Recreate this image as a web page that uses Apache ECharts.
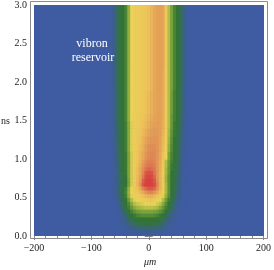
<!DOCTYPE html>
<html><head><meta charset="utf-8">
<script src="https://cdn.jsdelivr.net/npm/echarts@6/dist/echarts.min.js"></script>
<style>html,body{margin:0;padding:0;background:#fff}#c{width:274px;height:270px}</style>
</head><body><div id="c"></div>
<script>
// x cell edges (μm) and y cell edges (ns)
const xEdges = [-200,-67.5,-62.5,-57.5,-52.5,-47.5,-42.5,-37.5,-32.5,-27.5,-22.5,-17.5,-12.5,-7.5,-2.5,2.5,7.5,12.5,17.5,22.5,27.5,32.5,37.5,42.5,47.5,52.5,57.5,62.5,67.5,200];
const yEdges = [0,0.05,0.10,0.15,0.20,0.25,0.30,0.35,0.40,0.45,0.50,0.55,0.60,0.65,0.70,0.75,0.80,0.85,0.90,0.95,1.0,1.1,1.2,1.3,1.4,1.5,1.6,1.9,2.2,2.6,3.0];
// intensity (0..100), rows from bottom to top, columns from left to right
const intensity = [
[0, 0,0,0,0,0,0,0,0,0,0,0,0,0,0,0,0,0,0,0,0,0,0,0,0,0,0,0, 0],
[0, 0,0,0,0,1,2,4,5,7,8,9,10,10,10,10,9,8,7,5,3,2,1,0,0,0,0,0, 0],
[0, 0,0,0,1,3,5,8,10,12,14,15,16,16,16,16,15,14,12,10,8,5,3,1,0,0,0,0, 0],
[0, 0,0,0,2,4,7,11,15,19,22,24,25,26,26,26,25,23,20,16,11,7,4,2,0,0,0,0, 0],
[0, 0,0,0,3,6,11,17,23,26,28,29,30,30,30,30,29,28,25,21,15,10,6,3,1,0,0,0, 0],
[0, 0,0,1,4,9,16,23,28,31,33,34,35,35,35,35,34,33,31,27,22,15,9,4,1,0,0,0, 0],
[0, 0,0,2,6,13,22,29,33,36,38,39,40,40,40,40,39,38,36,33,28,22,14,7,3,0,0,0, 0],
[0, 0,0,3,9,18,27,32,37,41,43,44,45,46,46,46,45,44,41,37,32,27,19,11,5,1,0,0, 0],
[0, 0,1,5,13,22,29,34,41,45,47,48,49,50,51,51,50,48,46,41,35,29,22,14,7,2,0,0, 0],
[0, 0,2,7,15,24,30,38,45,49,51,52,54,56,57,57,55,53,50,45,38,32,25,17,9,3,1,0, 0],
[0, 0,3,9,17,26,32,42,49,52,54,57,62,66,68,68,65,60,54,49,42,35,27,20,12,5,1,0, 0],
[0, 1,4,11,19,27,33,43,50,55,58,64,72,80,84,84,80,72,62,52,44,36,28,22,14,6,2,0, 0],
[0, 1,4,11,19,27,32,42,50,56,62,72,85,92,95,95,92,82,68,54,44,36,28,23,15,7,2,0, 0],
[0, 1,4,10,18,26,30,39,48,56,66,80,96,100,100,100,97,85,70,55,44,36,29,24,16,8,3,0, 0],
[0, 1,4,10,18,26,30,39,48,55,64,76,93,99,100,99,95,82,68,54,43,36,29,25,17,8,3,0, 0],
[0, 1,4,11,19,26,30,40,48,55,64,74,88,97,99,98,92,80,68,54,43,36,30,25,18,9,3,0, 0],
[0, 1,4,11,19,27,31,40,48,55,63,73,84,95,97,96,89,80,69,55,44,37,30,26,19,9,3,0, 0],
[0, 1,4,11,20,27,31,40,48,55,63,72,82,90,93,91,88,80,70,56,44,37,31,27,20,10,4,0, 0],
[0, 1,5,12,20,27,31,40,48,54,62,70,79,86,88,88,86,80,71,57,45,38,31,27,21,11,4,0, 0],
[0, 1,5,12,21,28,31,40,48,54,60,68,77,83,86,86,84,79,72,58,45,38,32,28,22,12,5,1, 0],
[0, 1,5,13,21,28,31,40,48,54,59,66,73,80,83,84,83,80,73,62,50,40,33,28,23,13,5,1, 0],
[0, 1,6,14,22,28,32,41,49,54,58,64,70,77,81,82,82,80,74,64,52,42,34,29,24,15,6,1, 0],
[0, 2,7,15,23,29,32,41,49,54,57,62,68,74,78,80,80,79,75,66,54,43,35,30,25,16,7,2, 0],
[0, 2,8,16,24,29,32,41,49,54,57,60,65,70,74,77,78,78,76,68,55,44,36,31,26,18,9,3, 0],
[0, 2,8,16,24,29,32,41,49,54,56,58,62,66,70,74,76,77,76,70,56,45,37,31,27,19,10,3, 0],
[0, 3,9,17,25,30,33,42,50,54,56,57,60,63,67,71,74,76,76,71,56,45,37,32,28,20,11,3, 0],
[0, 3,9,17,25,30,33,42,50,53,55,56,58,61,64,69,73,75,76,72,56,45,38,32,28,21,12,4, 0],
[0, 3,10,18,26,30,33,42,50,53,55,56,57,59,62,67,72,75,76,73,56,45,39,33,29,22,13,4, 0],
[0, 3,10,18,26,30,33,42,50,53,55,56,57,59,62,67,72,75,76,74,56,45,39,33,29,22,13,4, 0],
[0, 3,10,18,26,30,33,42,50,53,55,56,57,59,62,67,72,75,76,74,56,45,39,33,29,22,13,4, 0]
];
const xRange = [-200, 200];
const yRange = [0, 3];
const xStep = 100;
const yStep = 0.5;
const xTitle = 'μm';
const yTitle = 'ns';
const noteLines = ['vibron', 'reservoir'];

const palette = ['#3F5CA2','#3B6088','#356F52','#337433','#7DA63A','#E8D257','#EEC45A','#E8AE58','#E09656','#DE7050','#D8403C'];

const cells = [];
for (let i = 0; i < intensity.length; i++) {
  for (let j = 0; j < intensity[i].length; j++) {
    cells.push([xEdges[j], yEdges[i], xEdges[j+1], yEdges[i+1], intensity[i][j]]);
  }
}

const font = 'Liberation Serif';
const frameCol = '#8a8a8a';
const tickCommon = {
  axisLine: {show: false},
  axisTick: {show: true, inside: true, length: 4, lineStyle: {color: frameCol, width: 1}},
  minorTick: {show: true, splitNumber: 5, length: 2.5, lineStyle: {color: frameCol, width: 1}},
  splitLine: {show: false}
};
const labelStyle = {fontFamily: font, fontSize: 10, color: '#222'};
const fmtX = v => v < 0 ? '\u2212' + Math.abs(v) : String(v);

const chart = echarts.init(document.getElementById('c'), null, {renderer: 'canvas'});
chart.setOption({
  animation: false,
  grid: {left: 34, top: 5, width: 231, height: 231, show: true, backgroundColor: palette[0], borderWidth: 0},
  xAxis: [
    Object.assign({type: 'value', position: 'bottom', min: xRange[0], max: xRange[1], interval: xStep, offset: 2,
      axisLabel: Object.assign({margin: 5, formatter: fmtX}, labelStyle)}, tickCommon),
    Object.assign({type: 'value', position: 'top', min: xRange[0], max: xRange[1], interval: xStep, offset: 4,
      axisLabel: {show: false}}, tickCommon)
  ],
  yAxis: [
    Object.assign({type: 'value', position: 'left', min: yRange[0], max: yRange[1], interval: yStep, offset: 4,
      axisLabel: Object.assign({margin: 3, formatter: v => v.toFixed(1)}, labelStyle)}, tickCommon),
    Object.assign({type: 'value', position: 'right', min: yRange[0], max: yRange[1], interval: yStep, offset: 2,
      axisLabel: {show: false}}, tickCommon)
  ],
  visualMap: {type: 'continuous', show: false, min: 0, max: 100, dimension: 4, seriesIndex: 0, inRange: {color: palette}},
  series: [{
    type: 'custom',
    clip: true,
    silent: true,
    dimensions: ['x0','y0','x1','y1','v'],
    encode: {x: [0, 2], y: [1, 3]},
    data: cells,
    renderItem: function (params, api) {
      const p0 = api.coord([api.value(0), api.value(3)]);
      const p1 = api.coord([api.value(2), api.value(1)]);
      return {type: 'rect', shape: {x: p0[0], y: p0[1], width: p1[0] - p0[0] + 0.6, height: p1[1] - p0[1] + 0.6},
        style: {fill: api.visual('color')}};
    }
  }],
  graphic: [
    {type: 'rect', shape: {x: 30.5, y: 1.5, width: 237, height: 237}, style: {fill: null, stroke: frameCol, lineWidth: 1}, z: 10},
    {type: 'text', x: 150, y: 262, style: {text: xTitle, font: 'italic 10px "Liberation Serif"', fill: '#222', textAlign: 'center', textVerticalAlign: 'middle'}},
    {type: 'text', x: 10, y: 121, style: {text: yTitle, font: '10px "Liberation Serif"', fill: '#222', textAlign: 'right', textVerticalAlign: 'middle'}},
    {type: 'text', x: 92, y: 44, style: {text: noteLines[0], font: '12px "Liberation Serif"', fill: '#ffffff', textAlign: 'center', textVerticalAlign: 'middle'}, z: 20},
    {type: 'text', x: 93, y: 58, style: {text: noteLines[1], font: '12px "Liberation Serif"', fill: '#ffffff', textAlign: 'center', textVerticalAlign: 'middle'}, z: 20}
  ]
});
</script></body></html>
